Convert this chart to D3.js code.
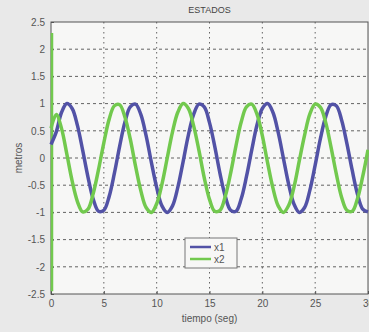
<!DOCTYPE html>
<html>
<head>
<meta charset="utf-8">
<script src="https://cdn.jsdelivr.net/npm/d3@7/dist/d3.min.js"></script>
<style>
  html, body { margin: 0; padding: 0; background: #e9e9e9; }
  svg { display: block; font-family: "Liberation Sans", Arial, sans-serif; }
</style>
</head>
<body>
<div id="chart"></div>
<script>
// tiempo (seg), sampled every 0.5 s
const tiempo = d3.range(0, 30.01, 0.5);

// x1 (blue) values
const x1 = [0.25, 0.48, 0.84, 1.0, 0.91, 0.6, 0.14, -0.35, -0.76, -0.98,
  -0.96, -0.71, -0.28, 0.22, 0.66, 0.94, 0.99, 0.8, 0.41, -0.08,
  -0.54, -0.88, -1.0, -0.88, -0.54, -0.07, 0.42, 0.8, 0.99, 0.94,
  0.65, 0.21, -0.29, -0.71, -0.96, -0.98, -0.75, -0.34, 0.15, 0.61,
  0.91, 1.0, 0.84, 0.47, -0.01, -0.49, -0.85, -1.0, -0.91, -0.59,
  -0.13, 0.36, 0.76, 0.98, 0.96, 0.7, 0.27, -0.22, -0.66, -0.94, -0.99];

// x2 (green) values
const x2 = [0.55, 0.8, 0.54, 0.07, -0.42, -0.8, -0.99, -0.94, -0.65, -0.21,
  0.28, 0.71, 0.96, 0.98, 0.75, 0.35, -0.15, -0.6, -0.91, -1.0,
  -0.84, -0.48, 0.0, 0.48, 0.84, 1.0, 0.91, 0.59, 0.14, -0.36,
  -0.76, -0.98, -0.96, -0.7, -0.28, 0.22, 0.66, 0.94, 0.99, 0.8,
  0.41, -0.09, -0.55, -0.88, -1.0, -0.87, -0.53, -0.05, 0.42, 0.81,
  0.99, 0.93, 0.65, 0.2, -0.29, -0.72, -0.96, -0.98, -0.75, -0.34, 0.15];

// start-up spike of x2 at t = 0
const x2SpikeT = [0, 0];
const x2SpikeV = [2.3, -2.45];

const xTicks = [0, 5, 10, 15, 20, 25, 30];
const yTicks = [-2.5, -2, -1.5, -1, -0.5, 0, 0.5, 1, 1.5, 2, 2.5];
const series = [
  { name: 'x1', color: '#5252a6', values: x1 },
  { name: 'x2', color: '#72c94e', values: x2 }
];

const width = 369, height = 332;
const margin = { top: 22, right: 1, bottom: 38, left: 51 };
const plotW = width - margin.left - margin.right;
const plotH = height - margin.top - margin.bottom;

const svg = d3.select('#chart').append('svg')
  .attr('width', width)
  .attr('height', height);

svg.append('rect')
  .attr('width', width).attr('height', height)
  .attr('fill', '#e9e9e9');

const g = svg.append('g')
  .attr('transform', `translate(${margin.left},${margin.top})`);

const x = d3.scaleLinear().domain([0, 30]).range([0, plotW]);
const y = d3.scaleLinear().domain([-2.5, 2.5]).range([plotH, 0]);

g.append('rect')
  .attr('width', plotW).attr('height', plotH)
  .attr('fill', '#f7f7f6');

// grid
g.append('g')
  .selectAll('line')
  .data(yTicks.slice(1, -1))
  .join('line')
  .attr('x1', 0).attr('x2', plotW)
  .attr('y1', d => y(d)).attr('y2', d => y(d))
  .attr('stroke', '#333')
  .attr('stroke-width', 1)
  .attr('stroke-dasharray', '3,3')
  .attr('opacity', 0.75);

g.append('g')
  .selectAll('line')
  .data(xTicks.slice(1, -1))
  .join('line')
  .attr('y1', 0).attr('y2', plotH)
  .attr('x1', d => x(d)).attr('x2', d => x(d))
  .attr('stroke', '#333')
  .attr('stroke-width', 1)
  .attr('stroke-dasharray', '1.5,3.5')
  .attr('opacity', 0.75);

// axes
const yAxis = g.append('g')
  .call(d3.axisLeft(y).tickValues(yTicks).tickSize(-3).tickPadding(6)
    .tickFormat(d => String(d)));
const xAxis = g.append('g')
  .attr('transform', `translate(0,${plotH})`)
  .call(d3.axisBottom(x).tickValues(xTicks).tickSize(-3).tickPadding(6));

[xAxis, yAxis].forEach(a => {
  a.select('.domain').remove();
  a.selectAll('line').attr('stroke', '#555');
  a.selectAll('text').attr('fill', '#555').attr('font-size', 10);
});

g.append('rect')
  .attr('width', plotW).attr('height', plotH)
  .attr('fill', 'none')
  .attr('stroke', '#555')
  .attr('stroke-width', 1);

// lines
const line = d3.line()
  .x(d => x(d[0]))
  .y(d => y(d[1]))
  .curve(d3.curveCatmullRom);

g.append('path')
  .datum(x2SpikeT.map((t, i) => [t, x2SpikeV[i]]))
  .attr('fill', 'none')
  .attr('stroke', series[1].color)
  .attr('stroke-width', 2.5)
  .attr('d', d3.line().x(d => x(d[0]) + 1).y(d => y(d[1])));

series.forEach(s => {
  g.append('path')
    .datum(tiempo.map((t, i) => [t, s.values[i]]))
    .attr('fill', 'none')
    .attr('stroke', s.color)
    .attr('stroke-width', 3.5)
    .attr('stroke-linejoin', 'round')
    .attr('d', line);
});

// titles
svg.append('text')
  .attr('x', margin.left + plotW / 2).attr('y', 13)
  .attr('text-anchor', 'middle')
  .attr('font-size', 9).attr('fill', '#444')
  .text('ESTADOS');

svg.append('text')
  .attr('x', margin.left + plotW / 2).attr('y', 322)
  .attr('text-anchor', 'middle')
  .attr('font-size', 10).attr('fill', '#555')
  .text('tiempo (seg)');

svg.append('text')
  .attr('transform', `translate(22,${margin.top + plotH / 2}) rotate(-90)`)
  .attr('text-anchor', 'middle')
  .attr('font-size', 10).attr('fill', '#555')
  .text('metros');

// legend
const leg = svg.append('g').attr('transform', 'translate(185,238)');
leg.append('rect')
  .attr('width', 52).attr('height', 30)
  .attr('fill', '#f7f7f6')
  .attr('stroke', '#777');
series.forEach((s, i) => {
  const ly = 9 + i * 12;
  leg.append('line')
    .attr('x1', 5).attr('x2', 26)
    .attr('y1', ly).attr('y2', ly)
    .attr('stroke', s.color).attr('stroke-width', 2.5);
  leg.append('text')
    .attr('x', 29).attr('y', ly + 3.5)
    .attr('font-size', 10).attr('fill', '#555')
    .text(s.name);
});
</script>
</body>
</html>
